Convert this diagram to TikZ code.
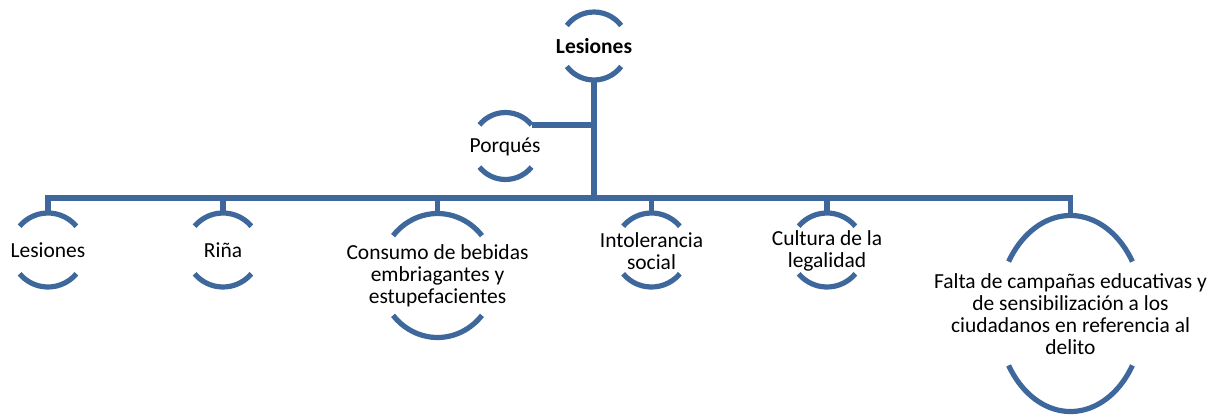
\documentclass[tikz,border=0pt]{standalone}
\usepackage{fontspec}
\setmainfont{Carlito}
\usetikzlibrary{calc}
\definecolor{lineblue}{RGB}{62,104,155}
\begin{document}
\begin{tikzpicture}[x=0.75pt,y=-0.75pt,
  conn/.style={draw=lineblue,line width=3.9pt},
  arcline/.style={draw=lineblue,line width=3.9pt},
  lbl/.style={align=center,inner sep=0pt,font=\fontsize{16.1}{16.6}\selectfont,text=black}]
\useasboundingbox (0,0) rectangle (1231,415);
% arcs: center, x radius, y radius, angle
\newcommand{\ringarcs}[4]{%
  \draw[arcline] (#1) ++(#4:#2 and -#3) arc[start angle=#4,end angle=180-#4,x radius=#2,y radius=-#3];
  \draw[arcline] (#1) ++(-#4:#2 and -#3) arc[start angle=-#4,end angle=-180+#4,x radius=#2,y radius=-#3];}
% centres
\coordinate (rc) at (594,46);
\coordinate (pc) at (505.5,146);
\coordinate (c1) at (48,250);
\coordinate (c2) at (223,250);
\coordinate (c3) at (437.5,275.5);
\coordinate (c4) at (651.5,250);
\coordinate (c5) at (827,250);
\coordinate (c6) at (1070.5,313.5);
% text nodes
\node[lbl,font=\fontsize{16.1}{16.6}\selectfont\bfseries] (root) at (rc) {Lesiones};
\node[lbl] (porq) at (505,147) {Porqués};
\node[lbl] (n1) at (c1) {Lesiones};
\node[lbl] (n2) at (c2) {Riña};
\node[lbl] (n3) at (437.5,276) {Consumo de bebidas\\embriagantes y\\estupefacientes};
\node[lbl] (n4) at (651.5,251) {Intolerancia\\social};
\node[lbl] (n5) at (827,251) {Cultura de la\\legalidad};
\node[lbl] (n6) at (1070.5,314) {Falta de campañas educativas y\\de sensibilización a los\\ciudadanos en referencia al\\delito};
% rings
\ringarcs{rc}{34}{34}{37}
\ringarcs{pc}{33.5}{33.5}{39}
\ringarcs{c1}{37}{37}{40}
\ringarcs{c2}{37}{37}{40}
\ringarcs{c3}{58}{62}{40}
\ringarcs{c4}{37}{37}{40}
\ringarcs{c5}{37}{37}{40}
\ringarcs{c6}{73}{98}{32}
% connector anchor points
\coordinate (rootb) at ($(rc)+(0,34)$);
\coordinate (bar) at (594,198);
\coordinate (pe) at ($(pc)+(39:33.5 and -33.5)$);
\coordinate (t1) at ($(c1)+(0,-37)$);
\coordinate (t2) at ($(c2)+(0,-37)$);
\coordinate (t3) at ($(c3)+(0,-62)$);
\coordinate (t4) at ($(c4)+(0,-37)$);
\coordinate (t5) at ($(c5)+(0,-37)$);
\coordinate (t6) at ($(c6)+(0,-98)$);
% connectors
\draw[conn] (rootb) -- (bar);
\draw[conn] (pe) -- (pe -| bar);
\draw[conn,line join=miter] (t1) -- (t1 |- bar) -- (t6 |- bar) -- (t6);
\foreach \t in {t2,t3,t4,t5}{\draw[conn] (\t) -- (\t |- bar);}
\end{tikzpicture}
\end{document}
